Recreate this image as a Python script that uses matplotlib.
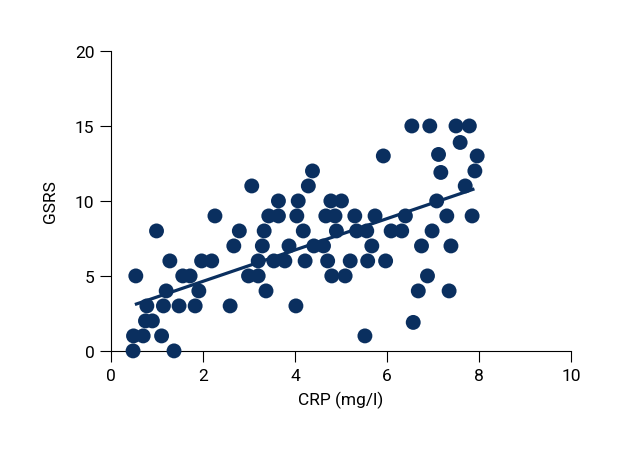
import numpy as np
import matplotlib.pyplot as plt

# =====================================================
# DATA
# =====================================================

crp = [
    0.48, 1.37, 0.49, 0.70, 1.10, 0.75, 0.90, 0.78, 1.14, 1.48,
    1.83, 2.59, 1.20, 1.91, 3.37, 0.54, 1.56, 1.72, 2.99, 3.20,
    1.28, 1.97, 2.19, 3.20, 3.54, 2.67, 3.29, 0.99, 2.79, 3.33,
    2.26, 3.43, 3.64, 3.06, 3.64,
    5.92, 4.38, 4.29, 4.07, 4.78, 5.01, 4.04, 4.67, 4.87, 5.30,
    5.74, 6.40, 4.18, 4.90, 5.34, 5.56, 6.09, 6.32, 3.87, 4.41,
    4.62, 5.67, 6.75, 3.78, 4.22, 4.71, 5.20, 5.58, 5.97, 4.80,
    5.09, 4.02, 6.68, 6.57, 5.52,
    6.54, 6.93, 7.50, 7.79, 7.59, 7.12, 7.96, 7.17, 7.91, 7.70,
    7.08, 7.30, 7.85, 6.98, 7.39, 6.88, 7.35,
]

gsrs = [
    0, 0, 1, 1, 1, 2, 2, 3, 3, 3,
    3, 3, 4, 4, 4, 5, 5, 5, 5, 5,
    6, 6, 6, 6, 6, 7, 7, 8, 8, 8,
    9, 9, 9, 11, 10,
    13, 12, 11, 10, 10, 10, 9, 9, 9, 9,
    9, 9, 8, 8, 8, 8, 8, 8, 7, 7,
    7, 7, 7, 6, 6, 6, 6, 6, 6, 5,
    5, 3, 4, 1.9, 1,
    15, 15, 15, 15, 13.9, 13.1, 13, 11.9, 12, 11,
    10, 9, 9, 8, 7, 5, 4,
]

# regression line as drawn in the reference
fit_x = [0.52, 7.9]
fit_slope = 1.045
fit_intercept = 2.55

x_ticks = [0, 2, 4, 6, 8, 10]
y_ticks = [0, 5, 10, 15, 20]

NAVY = "#0a2f5f"

plt.rcParams["font.family"] = ["Roboto", "DejaVu Sans"]

# =====================================================
# PLOT
# =====================================================

fig = plt.figure(figsize=(6.2, 4.6), dpi=100)
ax = fig.add_axes([0.179, 0.235, 0.742, 0.652])

ax.scatter(
    crp,
    gsrs,
    s=115,
    color=NAVY,
    edgecolors="none",
    clip_on=False,
    zorder=3
)

fx = np.array(fit_x)
ax.plot(
    fx,
    fit_slope * fx + fit_intercept,
    color=NAVY,
    linewidth=2.3,
    solid_capstyle="butt",
    zorder=4
)

ax.set_xlim(0, 10)
ax.set_ylim(0, 20)
ax.set_xticks(x_ticks)
ax.set_yticks(y_ticks)

for side in ["top", "right"]:
    ax.spines[side].set_visible(False)
for side in ["left", "bottom"]:
    ax.spines[side].set_linewidth(0.8)

ax.tick_params(direction="out", length=8, width=0.8, labelsize=12.5, pad=4)

ax.set_xlabel("CRP (mg/l)", fontsize=12.5, labelpad=6)
ax.set_ylabel("GSRS", fontsize=12.5, labelpad=12)

fig.savefig("out.png", dpi=100)
